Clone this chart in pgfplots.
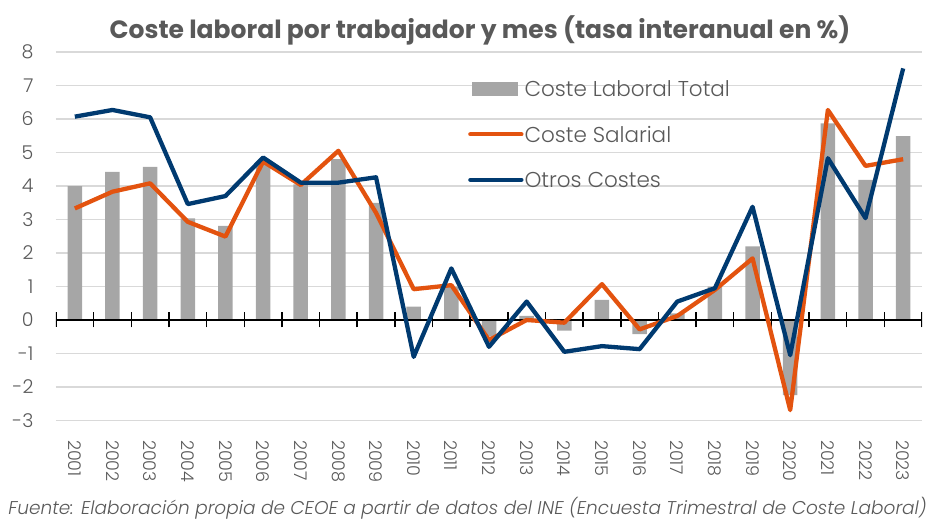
\documentclass[border=0pt]{standalone}
\usepackage{fontspec}
\setmainfont{Poppins}
\newfontfamily\plight{Poppins}[UprightFont={* Light}, ItalicFont={* Light Italic}]
\usepackage{pgfplots}
\pgfplotsset{compat=1.18}
\definecolor{barg}{HTML}{A6A6A6}
\definecolor{orng}{HTML}{E3530F}
\definecolor{navy}{HTML}{003A70}
\definecolor{gridc}{HTML}{D9D9D9}
\definecolor{txt}{HTML}{595959}

\pgfplotstableread{
x total salarial otros
0 4.00 3.33 6.07
1 4.42 3.83 6.27
2 4.57 4.08 6.05
3 3.03 2.93 3.46
4 2.81 2.49 3.70
5 4.70 4.73 4.85
6 4.05 4.03 4.10
7 4.80 5.05 4.10
8 3.50 3.20 4.26
9 0.40 0.92 -1.10
10 1.00 1.04 1.54
11 -0.50 -0.60 -0.80
12 0.12 0.00 0.55
13 -0.32 -0.08 -0.95
14 0.60 1.07 -0.78
15 -0.42 -0.28 -0.87
16 0.20 0.12 0.55
17 1.00 0.90 0.95
18 2.20 1.84 3.38
19 -2.24 -2.69 -1.05
20 5.87 6.27 4.83
21 4.18 4.60 3.04
22 5.49 4.80 7.51
}\datatable

\begin{document}
\begin{tikzpicture}[x=1pt,y=1pt]
\path[use as bounding box] (-56,-98.5) rectangle (890,420.5);
\clip (-56,-98.5) rectangle (890,420.5);
\begin{axis}[
  at={(0,0)}, anchor=south west,
  scale only axis, width=866pt, height=368.5pt,
  xmin=-0.5, xmax=22.5, ymin=-3, ymax=8,
  xtick={0,...,22},
  xticklabels={2001,2002,2003,2004,2005,2006,2007,2008,2009,2010,2011,2012,2013,2014,2015,2016,2017,2018,2019,2020,2021,2022,2023},
  ytick={-3,...,8},
  ymajorgrids, grid style={gridc, line width=1.5pt},
  axis line style={draw=none},
  major tick length=0pt, tick style={draw=none},
  /pgf/number format/assume math mode=true,
  yticklabel style={font=\plight\fontsize{19}{22}\selectfont, text=txt, xshift=-19pt},
  xticklabel style={font=\plight\fontsize{17.5}{20}\selectfont, text=txt, yshift=-16pt, rotate=-90, anchor=west},
  legend style={at={(0.4758,0.925)}, anchor=north west, draw=none, fill=none,
    inner sep=0pt, row sep=27.5pt,
    font=\plight\fontsize{21.5}{24}\selectfont, text=txt,
    nodes={inner sep=1pt, text height=16pt, text depth=0pt}},
  legend cell align=left,
]
\addplot[ybar, bar width=14.5pt, fill=barg, draw=none,
  legend image code/.code={\fill[barg] (2pt,-7pt) rectangle (48pt,7pt);}]
  table[x=x, y=total] {\datatable};
\addlegendentry{Coste Laboral Total}
\draw[black, line width=2.2pt] (axis cs:-0.5,0) -- (axis cs:22.5,0);
\pgfplotsinvokeforeach{-0.5,0.5,...,22.5}{
  \draw[black, line width=1.5pt] ([yshift=-7.5pt]axis cs:#1,0) -- ([yshift=7.5pt]axis cs:#1,0);
}
\addplot[orng, line width=4.3pt, line join=round,
  legend image code/.code={\draw[orng, line width=4.3pt, line cap=round] (0pt,0pt) -- (51pt,0pt);}]
  table[x=x, y=salarial] {\datatable};
\addlegendentry{Coste Salarial}
\addplot[navy, line width=4.3pt, line join=round,
  legend image code/.code={\draw[navy, line width=4.3pt, line cap=round] (0pt,0pt) -- (51pt,0pt);}]
  table[x=x, y=otros] {\datatable};
\addlegendentry{Otros Costes}
\end{axis}
\node[font=\bfseries\fontsize{25}{28}\selectfont, text=txt] at (424,390.5) {Coste laboral por trabajador y mes (tasa interanual en \%)};
\node[font=\plight\itshape\fontsize{18.5}{22}\selectfont, text=txt] at (411.5,-87.5) {Fuente: Elaboración propia de CEOE a partir de datos del INE (Encuesta Trimestral de Coste Laboral)};
\end{tikzpicture}
\end{document}
